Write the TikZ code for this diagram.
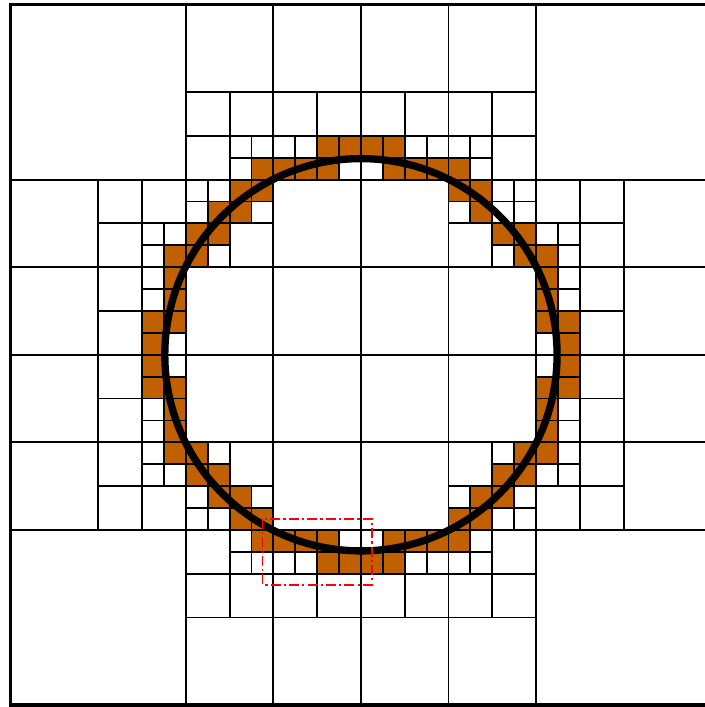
\documentclass[tikz,border=0pt]{standalone}
\usepackage{tikz}
\definecolor{cellorange}{RGB}{192,96,0}
\definecolor{boxred}{RGB}{255,0,0}
\begin{document}
\begin{tikzpicture}[x=1cm,y=-1cm,
  gl/.style={line width=2.4pt,black},
  cutcell/.style={fill=cellorange},
  bordr/.style={line width=4.6pt,black},
  ring/.style={line width=9.5pt,black},
  zoombox/.style={line width=2.4pt,boxred,dash pattern=on 13pt off 4pt on 3pt off 4pt}]
\useasboundingbox (-0.489,-0.206) rectangle (31.672,32.091);
% orange cells
\foreach \i/\j in {11/7,12/7,13/7,14/6,15/6,14/7,16/6,17/6,17/7,18/7,19/7,20/7,
  10/8,11/8,20/8,21/8, 9/9,10/9,21/9, 8/10,9/10,22/10,23/10, 7/11,8/11,23/11,24/11,
  7/12,24/12, 7/13,24/13, 6/14,7/14,24/14,25/14, 6/15,25/15, 6/16,25/16,
  6/17,7/17,24/17,25/17, 7/18,24/18, 7/19,24/19, 7/20,8/20,23/20,24/20,
  8/21,9/21,22/21,23/21, 9/22,10/22,21/22,22/22, 10/23,11/23,20/23,21/23,
  11/24,12/24,13/24,14/24,17/24,18/24,19/24,20/24, 14/25,15/25,16/25,17/25}
  { \fill[cutcell] (\i,\j) rectangle ++(1,1); }
% level-2 leaves
\foreach \x/\y in {0/0,24/0,0/24,24/24}
  { \draw[gl] (\x,\y) rectangle ++(8,8); }
% level-3 leaves
\foreach \x/\y in {8/0,12/0,16/0,20/0, 0/8,0/12,0/16,0/20, 28/8,28/12,28/16,28/20,
  8/28,12/28,16/28,20/28, 12/8,16/8,8/12,12/12,16/12,20/12,8/16,12/16,16/16,20/16,12/20,16/20}
  { \draw[gl] (\x,\y) rectangle ++(4,4); }
% level-4 leaves
\foreach \x/\y in {8/4,10/4,8/6,12/4,14/4,16/4,18/4,20/4,22/4,22/6,
  4/8,6/8,4/10,4/12,4/14,4/16,4/18,4/20,4/22,6/22,
  24/8,26/8,26/10,26/12,26/14,26/16,26/18,26/20,24/22,26/22,
  8/24,22/24,8/26,10/26,12/26,14/26,16/26,18/26,20/26,22/26,
  10/10,20/10,10/20,20/20}
  { \draw[gl] (\x,\y) rectangle ++(2,2); }
% level-5 blocks
\foreach \x/\y in {10/6,12/6,14/6,16/6,18/6,20/6,
  6/10,6/12,6/14,6/16,6/18,6/20,
  24/10,24/12,24/14,24/16,24/18,24/20,
  10/24,12/24,14/24,16/24,18/24,20/24,
  8/8,10/8,8/10,20/8,22/8,22/10,8/20,8/22,10/22,22/20,20/22,22/22}
  { \draw[gl] (\x,\y) rectangle ++(2,2) (\x+1,\y) -- ++(0,2) (\x,\y+1) -- ++(2,0); }
% outer border
\draw[bordr] (0,0) rectangle (32,32);
% circle
\draw[ring] (16,16) circle (8.96);
% zoom box
\draw[zoombox] (11.5,23.5) rectangle (16.5,26.5);
\end{tikzpicture}
\end{document}
